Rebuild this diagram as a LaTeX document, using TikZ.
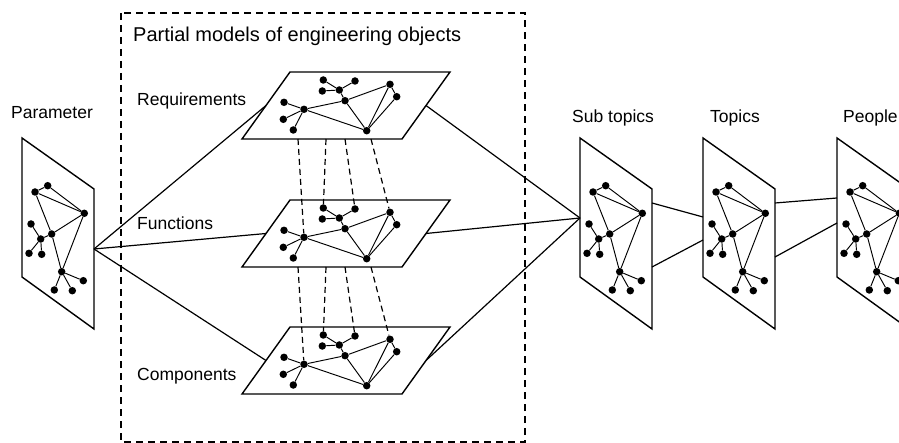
\documentclass[tikz,border=0pt]{standalone}
\usepackage{fontspec}
\setmainfont{Liberation Sans}
\usepackage{tikz}

\begin{document}
\begin{tikzpicture}[x=1pt,y=-1pt,
	plane/.style={line width=1.4pt},
	link/.style={line width=1.2pt},
	edge/.style={line width=0.95pt},
	dot/.style={circle,fill=black,inner sep=0pt,minimum size=7.5pt},
	proj/.style={line width=1.2pt,dash pattern=on 6pt off 4pt},
	lbl/.style={anchor=base west,inner sep=0pt,font={\fontsize{17.5}{20}\selectfont}}]
	\useasboundingbox (0,0) rectangle (899,443);
	\clip (0,0) rectangle (899,443);
	% dashed frame and labels
	\draw[line width=1.3pt,dash pattern=on 7pt off 5pt] (121,13) rectangle (525,442);
	\node[lbl,font={\fontsize{20}{24}\selectfont}] (box-t) at (133,41.5) {Partial models of engineering objects};
	\node[lbl] (par-t) at (11,119) {Parameter};
	\node[lbl] (req-t) at (137,106) {Requirements};
	\node[lbl] (fun-t) at (137,230) {Functions};
	\node[lbl] (com-t) at (137,381) {Components};
	\node[lbl] (sub-t) at (572,123) {Sub topics};
	\node[lbl] (top-t) at (710,123) {Topics};
	\node[lbl] (peo-t) at (843,123) {People};
	% upright planes
	\foreach \n/\x in {par/22,sub/580,top/703,peo/837}{
		\begin{scope}[shift={(\x,138)}]
			\draw[plane] (0,0) -- (72,51) -- (72,191) -- (0,139) -- cycle;
			\node[dot] (\n-a) at (25.7,47.7) {};
			\node[dot] (\n-b) at (13,54) {};
			\node[dot] (\n-c) at (62.3,75.3) {};
			\node[dot] (\n-d) at (29.7,96) {};
			\node[dot] (\n-e) at (9,86) {};
			\node[dot] (\n-f) at (18.7,101) {};
			\node[dot] (\n-g) at (7,115.3) {};
			\node[dot] (\n-h) at (19.7,116.3) {};
			\node[dot] (\n-i) at (39.7,133.7) {};
			\node[dot] (\n-j) at (61.3,142.7) {};
			\node[dot] (\n-k) at (32.3,152) {};
			\node[dot] (\n-l) at (50.3,152.7) {};
			\foreach \u/\v in {a/b,a/c,b/c,b/d,d/i,c/d,c/i,f/d,f/e,f/g,f/h,i/j,i/k,i/l}
				\draw[edge] (\n-\u) -- (\n-\v);
		\end{scope}
	}
	% flat planes
	\foreach \n/\y in {req/72,fun/200,com/327}{
		\begin{scope}[shift={(290,\y)}]
			\draw[plane] (0,0) -- (160,0) -- (112,67) -- (-48,67) -- cycle;
			\coordinate (\n-l) at (-24,33.5);
			\coordinate (\n-r) at (136,33.5);
			\foreach \k/\s in {1/8,2/36,3/55,4/81}
				\coordinate (\n-d\k) at (\s,67);
			\node[dot] (\n-p1) at (33.3,8) {};
			\node[dot] (\n-p2) at (65,9) {};
			\node[dot] (\n-p3) at (32.3,19) {};
			\node[dot] (\n-p4) at (49.3,18) {};
			\node[dot] (\n-p5) at (100,12.3) {};
			\node[dot] (\n-p6) at (106.7,24.7) {};
			\node[dot] (\n-p7) at (55,28.7) {};
			\node[dot] (\n-p8) at (-6,30.3) {};
			\node[dot] (\n-p9) at (14,37.3) {};
			\node[dot] (\n-p10) at (-6.7,47.3) {};
			\node[dot] (\n-p11) at (3.3,58) {};
			\node[dot] (\n-p12) at (76.7,58.7) {};
			\foreach \u/\v in {p4/p1,p4/p2,p4/p3,p4/p7,p7/p9,p7/p5,p9/p8,p9/p10,p9/p11,p9/p12,p7/p12,p12/p5,p12/p6,p5/p6}
				\draw[edge] (\n-\u) -- (\n-\v);
		\end{scope}
	}
	% projection lines
	\foreach \u/\l in {req/fun,fun/com}{
		\draw[proj] (\u-d1) -- (\l-p9);
		\draw[proj] (\u-d2) -- (\l-p1);
		\draw[proj] (\u-d3) -- (\l-p2);
		\draw[proj] (\u-d4) -- (\l-p5);
	}
	% connectors
	\coordinate (par-r) at (94,249);
	\coordinate (sub-l) at (580,218);
	\coordinate (sub-r1) at (652,203);
	\coordinate (sub-r2) at (652,267);
	\coordinate (top-l1) at (703,217);
	\coordinate (top-l2) at (703,240);
	\coordinate (top-r1) at (775,203);
	\coordinate (top-r2) at (775,257);
	\coordinate (peo-l1) at (837,198);
	\coordinate (peo-l2) at (837,223);
	\foreach \n in {req,fun,com}{
		\draw[link] (par-r) -- (\n-l);
		\draw[link] (\n-r) -- (sub-l);
	}
	\draw[link] (sub-r1) -- (top-l1);
	\draw[link] (sub-r2) -- (top-l2);
	\draw[link] (top-r1) -- (peo-l1);
	\draw[link] (top-r2) -- (peo-l2);
\end{tikzpicture}
\end{document}
